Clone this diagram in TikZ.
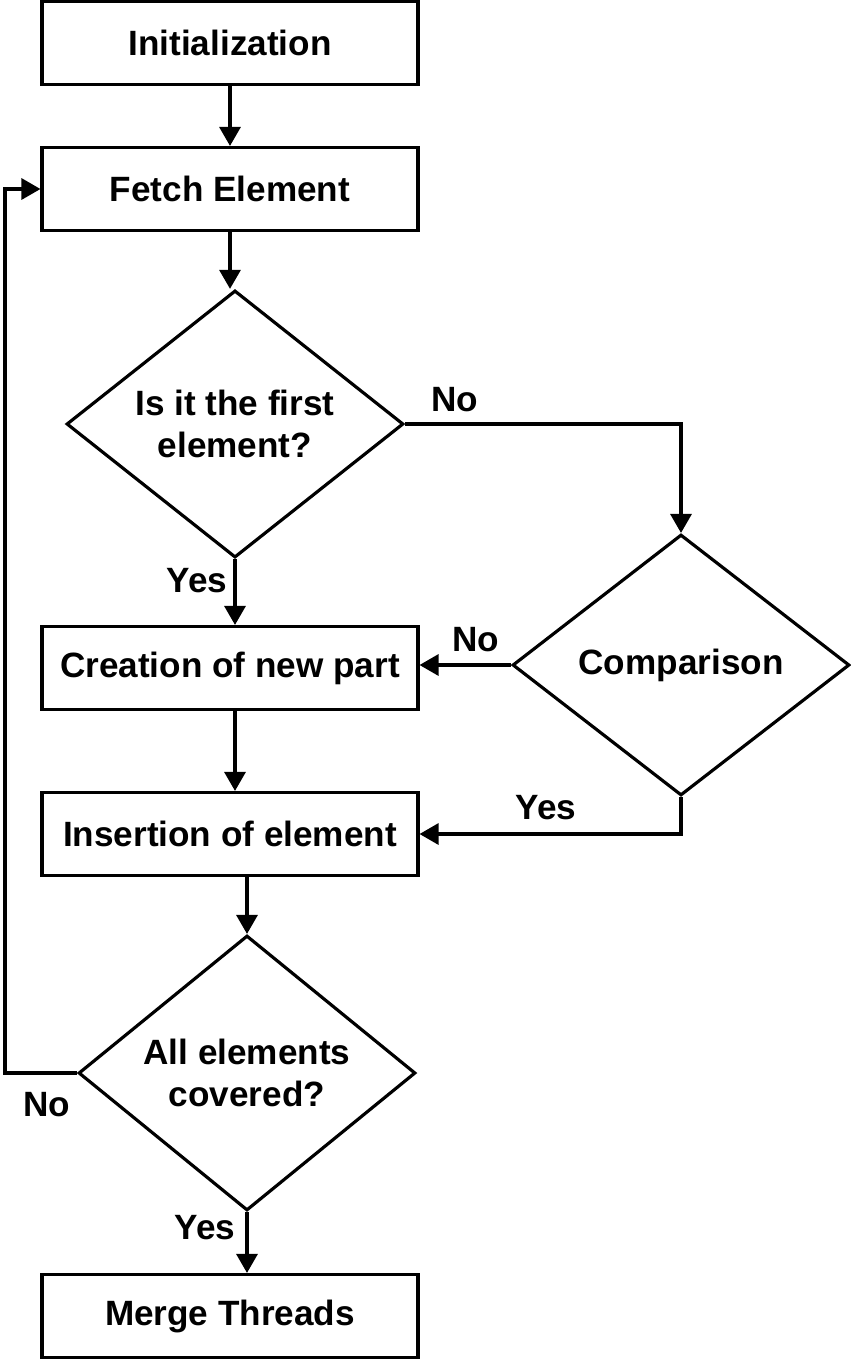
\documentclass[tikz,border=0pt]{standalone}
\usepackage{fontspec}
\setmainfont{Liberation Sans}
\usetikzlibrary{shapes.geometric,arrows.meta}

\tikzset{
	stepbox/.style={draw, minimum width=7.52cm, minimum height=1.66cm, inner sep=0pt},
	decision/.style={draw, diamond, minimum width=6.74cm, minimum height=5.22cm, inner sep=0pt, align=center},
	flow/.style={-{Triangle[length=0.38cm,width=0.42cm]}},
	answer/.style={inner sep=0pt}
}

\begin{document}
\begin{tikzpicture}[x=0.02cm, y=-0.02cm, line width=1.8pt, font=\fontsize{20}{24}\selectfont\bfseries]
	
	\useasboundingbox (0,0) rectangle (850,1360);
	
	\node[stepbox] (init) at (230,43) {Initialization};
	\node[stepbox] (fetch) at (230,189) {Fetch Element};
	\node[decision] (first) at (235,424) {Is it the first\\element?};
	\node[decision] (cmp) at (681,665) {Comparison};
	\node[stepbox] (create) at (230,668) {Creation of new part};
	\node[stepbox] (insert) at (230,834) {Insertion of element};
	\node[decision] (covered) at (247,1073) {All elements\\covered?};
	\node[stepbox] (merge) at (230,1316) {Merge Threads};
	\coordinate (back) at (5,1073); % loop back
	
	\draw[flow] (init) -- (fetch);
	\draw[flow] (fetch.south) -- (fetch.south |- first.north);
	\draw[flow] (first.south) -- (first.south |- create.north);
	\draw[flow] (first.east) -| (cmp.north);
	\draw[flow] (cmp.west) -- (cmp.west -| create.east);
	\draw[flow] (cmp.south) |- (insert.east);
	\draw[flow] (create.south -| first.south) -- (insert.north -| first.south);
	\draw[flow] (insert.south -| covered.north) -- (covered.north);
	\draw[flow] (covered.west) -| (back) |- (fetch.west);
	\draw[flow] (covered.south) -- (covered.south |- merge.north);
	
	\node[answer] (firstno) at (455,400) {No};
	\node[answer] (firstyes) at (197,581) {Yes};
	\node[answer] (cmpno) at (476,640) {No};
	\node[answer] (cmpyes) at (546,808) {Yes};
	\node[answer] (coveredno) at (47,1105) {No};
	\node[answer] (coveredyes) at (205,1228) {Yes};
	
\end{tikzpicture}
\end{document}
